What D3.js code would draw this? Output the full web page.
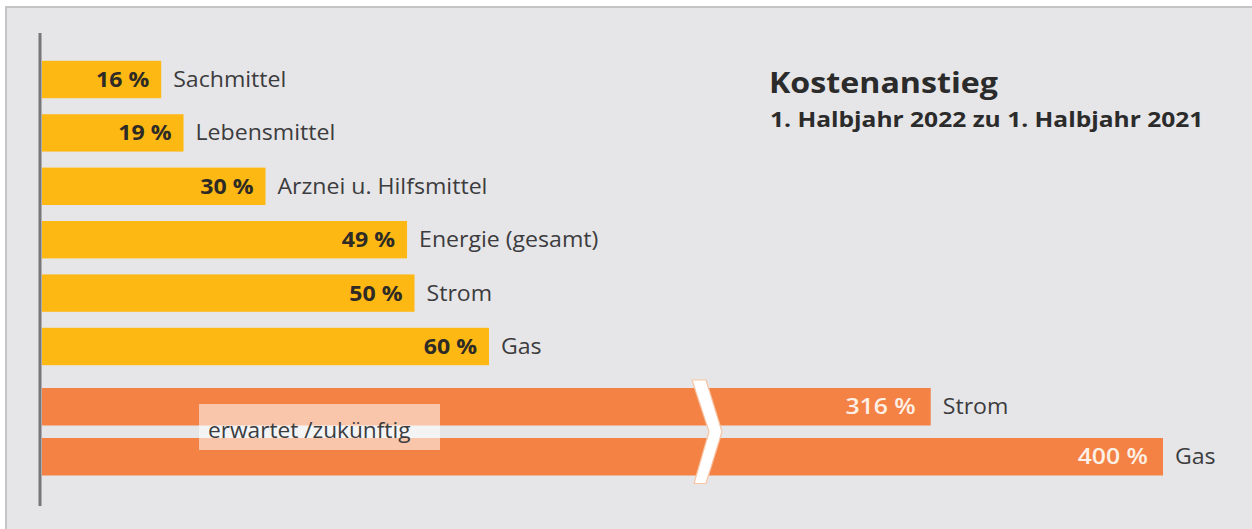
<!DOCTYPE html>
<html><head><meta charset="utf-8">
<script src="https://cdn.jsdelivr.net/npm/d3@7"></script>
<style>
html,body{margin:0;padding:0;background:#fff;}
svg{display:block;}
text{font-family:"Open Sans",Lato,sans-serif;}
</style></head>
<body>
<svg id="chart" width="1252" height="529"></svg>
<script>
// ---- data ----
const currentCategories = ["Sachmittel","Lebensmittel","Arznei u. Hilfsmittel","Energie (gesamt)","Strom","Gas"];
const currentValues = [16,19,30,49,50,60];
const expectedCategories = ["Strom","Gas"];
const expectedValues = [316,400];
const title = "Kostenanstieg";
const subtitle = "1. Halbjahr 2022 zu 1. Halbjahr 2021";
const expectedLabel = "erwartet /zukünftig";

const svg = d3.select("#chart");
const W = 1252, H = 529;

// helper: horizontally stretched text anchored at (x,y)
function label(parent, x, y, str, opts) {
  const t = parent.append("text")
    .attr("transform", `translate(${x},${y}) scale(${opts.sx || 1},1)`)
    .attr("x", 0).attr("y", 0)
    .attr("font-size", opts.size)
    .attr("fill", opts.fill || "#3c3c3e")
    .text(str);
  if (opts.weight) t.attr("font-weight", opts.weight);
  if (opts.anchor) t.attr("text-anchor", opts.anchor);
  if (opts.dy) t.attr("dy", opts.dy);
  return t;
}

// panel
svg.append("rect").attr("x",0).attr("y",0).attr("width",W).attr("height",H).attr("fill","#ffffff");
svg.append("rect").attr("x",5).attr("y",6).attr("width",W-5).attr("height",H-6).attr("fill","#e6e6e8");
svg.append("line").attr("x1",5).attr("x2",W).attr("y1",7).attr("y2",7).attr("stroke","#c4c4c6").attr("stroke-width",2);
svg.append("line").attr("x1",6).attr("x2",6).attr("y1",6).attr("y2",H).attr("stroke","#c4c4c6").attr("stroke-width",2);

const x0 = 42;
const xCur = d3.scaleLinear().domain([0,60]).range([x0,489]);
const xExp = d3.scaleLinear().domain([0,400]).range([57,1163]);

const yCur = d3.scaleBand().domain(currentCategories.map((d,i)=>i)).range([52.8,373.2]).paddingInner(0.3).paddingOuter(0.15);
const yExp = d3.scaleBand().domain(expectedCategories.map((d,i)=>i)).range([381.75,481.75]).paddingInner(0.25).paddingOuter(0.125);

const yellow = "#fdb813", orange = "#f48245";
const FS = 21, SX = 1.1;

// current bars
const gc = svg.append("g");
currentValues.forEach((v,i)=>{
  const y = yCur(i), h = yCur.bandwidth(), xe = xCur(v);
  gc.append("rect").attr("x",x0).attr("y",y).attr("width",xe-x0).attr("height",h).attr("fill",yellow);
  label(gc, xe-12, y+h/2, v+" %", {size:FS, sx:SX, weight:"bold", fill:"#2e2b26", anchor:"end", dy:"0.36em"});
  label(gc, xe+12, y+h/2, currentCategories[i], {size:FS, sx:SX, dy:"0.36em"});
});

// expected bars
const ge = svg.append("g");
expectedValues.forEach((v,i)=>{
  const y = yExp(i), h = yExp.bandwidth(), xe = xExp(v);
  ge.append("rect").attr("x",x0).attr("y",y).attr("width",xe-x0).attr("height",h).attr("fill",orange);
  label(ge, xe-15, y+h/2, v+" %", {size:FS, sx:1.18, weight:600, fill:"#fdf0e6", anchor:"end", dy:"0.36em"});
  label(ge, xe+12, y+h/2, expectedCategories[i], {size:FS, sx:SX, dy:"0.36em"});
});

// label box
const boxY = yExp(0) + 16;
svg.append("rect").attr("x",199).attr("y",boxY).attr("width",241).attr("height",46)
  .attr("fill","#ffffff").attr("fill-opacity",0.55);
label(svg, 208, boxY+26, expectedLabel, {size:FS, sx:1.08, dy:"0.36em"});

// break chevron
const yT = yExp(0) - 8, yB = yExp(1) + yExp.bandwidth() + 8, yM = (yT+yB)/2;
const bx = 692;
svg.append("path")
  .attr("d", `M${bx},${yT} L${bx+14},${yT} L${bx+30},${yM} L${bx+14},${yB} L${bx+2},${yB} L${bx+17},${yM} Z`)
  .attr("fill","#ffffff").attr("stroke","#f8c4a4").attr("stroke-width",1.2).attr("stroke-linejoin","round");

// axis line
svg.append("line").attr("x1",40).attr("x2",40).attr("y1",33).attr("y2",506)
  .attr("stroke","#77777a").attr("stroke-width",3);

// titles
label(svg, 769, 93, title, {size:28, sx:1.15, weight:"bold", fill:"#2b2b2b"});
label(svg, 770, 127, subtitle, {size:21, sx:1.17, weight:"bold", fill:"#2b2b2b"});
</script>
</body></html>
